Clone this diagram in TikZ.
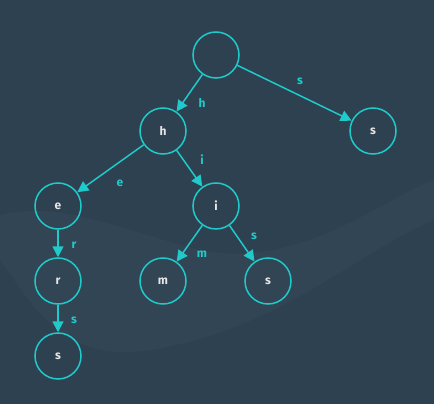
\documentclass[tikz,border=0pt]{standalone}
\usepackage{fontspec}
\setmainfont{Fira Sans}
\usetikzlibrary{arrows.meta}
\definecolor{bgc}{HTML}{2E4150}
\definecolor{tealc}{HTML}{1FCACA}
\definecolor{txtc}{HTML}{E6E6E6}
\tikzset{
  trienode/.style={circle, draw=tealc, line width=1.5pt, minimum size=46pt, inner sep=0pt, font=\fontsize{12}{14}\selectfont\bfseries, text=txtc},
  edge/.style={draw=tealc, line width=1.5pt, -{Triangle[length=11pt,width=11pt]}},
  lab/.style={text=tealc, font=\fontsize{12}{14}\selectfont\bfseries, inner sep=0pt}
}
\begin{document}
\begin{tikzpicture}[x=1pt,y=-1pt]
\fill[bgc] (0,0) rectangle (434,404);
\useasboundingbox (0,0) rectangle (434,404);
\fill[white, opacity=0.025] (0,215) .. controls (60,200) and (120,230) .. (200,250) .. controls (300,270) and (380,200) .. (434,180) -- (434,220) .. controls (360,250) and (280,330) .. (150,350) .. controls (60,365) and (30,300) .. (0,260) -- cycle;
\node[trienode] (root) at (216,55) {};
\node[trienode] (h) at (163,131) {h};
\node[trienode] (s1) at (373,131) {s};
\node[trienode] (e) at (58,206) {e};
\node[trienode] (i) at (216,206) {i};
\node[trienode] (r) at (58,281) {r};
\node[trienode] (m) at (163,281) {m};
\node[trienode] (s2) at (268,281) {s};
\node[trienode] (s3) at (58,356) {s};
\draw[edge] (root) -- (h);
\draw[edge] (root) -- (s1);
\draw[edge] (h) -- (e);
\draw[edge] (h) -- (i);
\draw[edge] (e) -- (r);
\draw[edge] (r) -- (s3);
\draw[edge] (i) -- (m);
\draw[edge] (i) -- (s2);
\node[lab] (lh) at (202,103) {h};
\node[lab] (ls1) at (300,81) {s};
\node[lab] (le) at (120,183) {e};
\node[lab] (li) at (202,160) {i};
\node[lab] (lr) at (74,245) {r};
\node[lab] (ls3) at (74,320) {s};
\node[lab] (lm) at (202,254) {m};
\node[lab] (ls2) at (254,236) {s};
\end{tikzpicture}
\end{document}
